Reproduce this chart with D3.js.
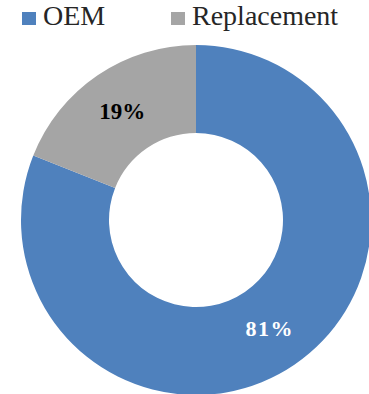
<!DOCTYPE html>
<html>
<head>
<meta charset="utf-8">
<script src="https://cdn.jsdelivr.net/npm/d3@7"></script>
</head>
<body style="margin:0; background:#fff">
<svg id="chart" width="369" height="394" style="display:block"></svg>
<script>
// Market share split by channel
const categories = ["OEM", "Replacement"];
const shares = [81, 19];
const colors = ["#4F81BD", "#A5A5A5"];
const labelColors = ["#FFFFFF", "#000000"];

const cx = 196, cy = 220;
const outerR = 175, innerR = 87;
const serif = '"Liberation Serif"';

const svg = d3.select("#chart");

const color = d3.scaleOrdinal().domain(categories).range(colors);
const labelColor = d3.scaleOrdinal().domain(categories).range(labelColors);

const data = categories.map((c, i) => ({ category: c, value: shares[i] }));

const pie = d3.pie().value(d => d.value).sort(null);
const arc = d3.arc().innerRadius(innerR).outerRadius(outerR);
const midR = (innerR + outerR) / 2;
const labelArc = d3.arc().innerRadius(midR).outerRadius(midR);

const g = svg.append("g").attr("transform", `translate(${cx},${cy})`);
const arcs = pie(data);

g.selectAll("path")
  .data(arcs)
  .join("path")
  .attr("d", arc)
  .attr("fill", d => color(d.data.category));

// Percentage labels centred in each ring segment
g.selectAll("text.value")
  .data(arcs)
  .join("text")
  .attr("class", "value")
  .attr("transform", d => `translate(${labelArc.centroid(d)})`)
  .attr("text-anchor", "middle")
  .attr("dy", "0.34em")
  .style("font-family", serif)
  .style("font-weight", "bold")
  .style("font-size", d => d.data.category === "OEM" ? "22px" : "23px")
  .style("letter-spacing", d => d.data.category === "OEM" ? "1.5px" : "0px")
  .style("fill", d => labelColor(d.data.category))
  .text(d => d.data.value + "%");

// Legend
const legendX = [22, 171];
const items = svg.append("g").selectAll("g")
  .data(categories)
  .join("g")
  .attr("transform", (d, i) => `translate(${legendX[i]},0)`);

items.append("rect")
  .attr("x", 0)
  .attr("y", 12)
  .attr("width", 14)
  .attr("height", 13)
  .attr("fill", d => color(d));

items.append("text")
  .attr("x", 21)
  .attr("y", 25)
  .style("font-family", serif)
  .style("font-size", "28px")
  .style("fill", "#262626")
  .text(d => d);
</script>
</body>
</html>
